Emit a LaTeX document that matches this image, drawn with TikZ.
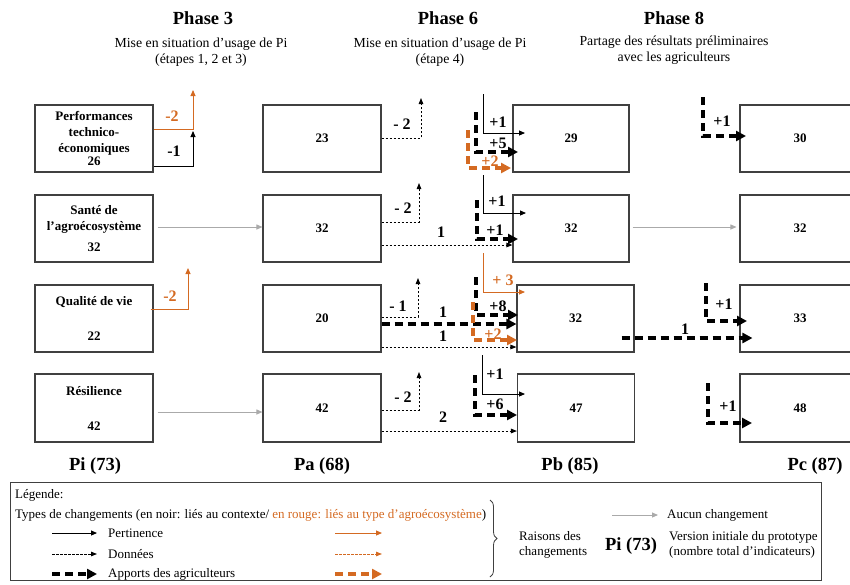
\documentclass[tikz,border=0pt]{standalone}
\usepackage{fontspec}
\setmainfont{Liberation Serif}
\usepackage{tikz}
\usetikzlibrary{arrows.meta,decorations.pathreplacing}

\definecolor{orng}{RGB}{212,106,34}
\definecolor{boxgray}{RGB}{64,64,64}
\definecolor{arrowgray}{RGB}{170,170,170}

\begin{document}
\begin{tikzpicture}[x=1pt,y=-1pt,
  box/.style={draw=boxgray,line width=1.1pt,minimum width=118pt,minimum height=67pt,inner sep=1pt,align=center,font=\bfseries\fontsize{13}{16}\selectfont},
  pert/.style={-{Triangle[length=6pt,width=5pt]},line width=0.9pt},
  donnees/.style={-{Triangle[length=6pt,width=4.5pt]},line width=0.9pt,dash pattern=on 2.5pt off 1.5pt},
  apports/.style={-{Triangle[length=10pt,width=10pt]},line width=3.2pt,dash pattern=on 8pt off 5pt},
  aucun/.style={-{Triangle[length=6pt,width=5pt]},line width=0.9pt,draw=arrowgray},
  lbl/.style={font=\bfseries\fontsize{16}{18}\selectfont},
  titre/.style={font=\bfseries\fontsize{18.5}{20}\selectfont},
  soustitre/.style={align=center,font=\fontsize{13.8}{16.5}\selectfont},
  proto/.style={font=\bfseries\fontsize{18.5}{20}\selectfont},
  leg/.style={anchor=west,inner sep=0pt,font=\fontsize{13}{15}\selectfont}]

\useasboundingbox (0,0) rectangle (850,584);

% phases
\node[titre] (ph3) at (203,18) {Phase 3};
\node[soustitre] (st3) at (201,52) {Mise en situation d’usage de Pi\\(étapes 1, 2 et 3)};
\node[titre] (ph6) at (448,18) {Phase 6};
\node[soustitre] (st6) at (440,52) {Mise en situation d’usage de Pi\\(étape 4)};
\node[titre] (ph8) at (674,18) {Phase 8};
\node[soustitre] (st8) at (674,50) {Partage des résultats préliminaires\\avec les agriculteurs};

% Pi
\node[box] (pi1) at (94,138.5) {Performances\\technico-\\économiques\\[-3pt]26};
\node[box] (pi2) at (94,228.5) {Santé de\\l’agroécosystème\\[5pt]32};
\node[box] (pi3) at (94,318.5) {Qualité de vie\\[19pt]22};
\node[box,minimum height=68pt] (pi4) at (94,408) {Résilience\\[19pt]42};

% Pa
\node[box] (pa1) at (322,138.5) {23};
\node[box] (pa2) at (322,228.5) {32};
\node[box] (pa3) at (322,318.5) {20};
\node[box,minimum height=68pt] (pa4) at (322,408) {42};

% Pb
\node[box,minimum width=116pt] (pb1) at (571,138.5) {29};
\node[box,minimum width=116pt] (pb2) at (571,228.5) {32};
\node[box,minimum width=117pt] (pb3) at (575.5,318.5) {32};
\node[box,minimum width=117pt,minimum height=68pt] (pb4) at (576,408) {47};

% Pc
\node[box,minimum width=120pt] (pc1) at (800,138.5) {30};
\node[box,minimum width=120pt] (pc2) at (800,228.5) {32};
\node[box,minimum width=120pt] (pc3) at (800,318.5) {33};
\node[box,minimum width=120pt,minimum height=68pt] (pc4) at (800,408) {48};

\node[proto] (vi) at (95,466) {Pi (73)};
\node[proto] (va) at (322,466) {Pa (68)};
\node[proto] (vb) at (570,466) {Pb (85)};
\node[proto] (vc) at (815,466) {Pc (87)};

% free ends
\coordinate (a1) at (193,131);
\coordinate (a2) at (193,90);
\coordinate (a3) at (421,98);
\coordinate (a4) at (419,183);
\coordinate (a5) at (188,268);
\coordinate (a6) at (418,278);
\coordinate (a7) at (419,372);
\coordinate (b1s) at (483,94);   \coordinate (b1e) at (525,133);
\coordinate (b2s) at (476,112);  \coordinate (b2e) at (518,152);
\coordinate (b3s) at (468,130);  \coordinate (b3e) at (511,168);
\coordinate (b4s) at (483,175);  \coordinate (b4e) at (526,213);
\coordinate (b5s) at (477,200);  \coordinate (b5e) at (518,239);
\coordinate (b6s) at (483,253);  \coordinate (b6e) at (525,292);
\coordinate (b7s) at (476,277);  \coordinate (b7e) at (518,315);
\coordinate (b8s) at (473,302);  \coordinate (b8e) at (517,340);
\coordinate (b9s) at (482,355);  \coordinate (b9e) at (525,394);
\coordinate (b10s) at (475,375); \coordinate (b10e) at (517,415);
\coordinate (c1s) at (703,97);   \coordinate (c1e) at (746,136);
\coordinate (c2s) at (706,283);  \coordinate (c2e) at (747,321);
\coordinate (c3s) at (708,383);  \coordinate (c3e) at (752,423);

% ligne 1
\draw[pert] ([yshift=-27.5pt]pi1.east) -| (a1);
\draw[pert,orng] ([yshift=9.5pt]pi1.east) -| (a2);
\node[lbl,orng] at (172,116) {-2};
\node[lbl] at (174,151) {-1};
\draw[donnees] ([yshift=0.5pt]pa1.east) -| (a3);
\node[lbl] at (402,124) {- 2};
\draw[pert] (b1s) |- (b1e);
\node[lbl] at (498,122) {+1};
\draw[apports] (b2s) |- (b2e);
\node[lbl] at (498,143) {+5};
\draw[apports,orng] (b3s) |- (b3e);
\node[lbl,orng] at (490,161) {+2};
\draw[apports] (c1s) |- (c1e);
\node[lbl] at (722,121) {+1};

% ligne 2
\draw[aucun] ([xshift=4pt,yshift=1.5pt]pi2.east) -- ([yshift=1.5pt]pa2.west);
\draw[donnees] ([yshift=6.5pt]pa2.east) -| (a4);
\node[lbl] at (403,208) {- 2};
\draw[donnees] ([yshift=-16.5pt]pa2.east) -- ([yshift=-16.5pt]pb2.west);
\node[lbl] at (441,232) {1};
\draw[pert] (b4s) |- (b4e);
\node[lbl] at (497,201) {+1};
\draw[apports] (b5s) |- (b5e);
\node[lbl] at (495,230) {+1};
\draw[aucun] ([xshift=3pt,yshift=1.5pt]pb2.east) -- ([xshift=-3pt,yshift=1.5pt]pc2.west);

% ligne 3
\draw[pert,orng] ([xshift=-3pt,yshift=9.5pt]pi3.east) -| (a5);
\node[lbl,orng] at (170,296) {-2};
\draw[donnees] ([yshift=1.5pt]pa3.east) -| (a6);
\node[lbl] at (398,306) {- 1};
\draw[apports] ([yshift=-5.5pt]pa3.east) -- ([yshift=-5.5pt]pb3.west);
\node[lbl] at (443,312) {1};
\draw[donnees] ([yshift=-28.5pt]pa3.east) -- ([yshift=-28.5pt]pb3.west);
\node[lbl] at (443,336) {1};
\draw[pert,orng] (b6s) |- (b6e);
\node[lbl,orng] at (503,280) {+ 3};
\draw[apports] (b7s) |- (b7e);
\node[lbl] at (498,306) {+8};
\draw[apports,orng] (b8s) |- (b8e);
\node[lbl,orng] at (493,334) {+2};
\draw[apports] ([xshift=-13pt,yshift=-19.5pt]pb3.east) -- ([xshift=13pt,yshift=-19.5pt]pc3.west);
\node[lbl] at (685,329) {1};
\draw[apports] (c2s) |- (c2e);
\node[lbl] at (724,304) {+1};

% ligne 4
\draw[aucun] ([xshift=4pt,yshift=-4pt]pi4.east) -- ([yshift=-4pt]pa4.west);
\draw[donnees] ([yshift=-2pt]pa4.east) -| (a7);
\node[lbl] at (403,397) {- 2};
\draw[donnees] ([yshift=-23pt]pa4.east) -- ([yshift=-23pt]pb4.west);
\node[lbl] at (443,417) {2};
\draw[pert] (b9s) |- (b9e);
\node[lbl] at (495,374) {+1};
\draw[apports] (b10s) |- (b10e);
\node[lbl] at (495,404) {+6};
\draw[apports] (c3s) |- (c3e);
\node[lbl] at (728,406) {+1};

% legende
\draw[boxgray,line width=1pt] (10,482) rectangle (821,580);
\node[leg] (lg) at (15,495) {Légende:};
\node[leg] (ty) at (15,515) {Types de changements (en noir: liés au contexte/ \textcolor{orng}{en rouge: liés au type d’agroécosystème})};
\coordinate (l1a) at (52,533);  \coordinate (l1b) at (97,533);
\coordinate (l2a) at (52,554);  \coordinate (l2b) at (97,554);
\coordinate (l3a) at (52,574);  \coordinate (l3b) at (97,574);
\coordinate (r1a) at (335,533); \coordinate (r1b) at (382,533);
\coordinate (r2a) at (335,554); \coordinate (r2b) at (382,554);
\coordinate (r3a) at (335,574); \coordinate (r3b) at (382,574);
\draw[pert] (l1a) -- (l1b);
\draw[donnees] (l2a) -- (l2b);
\draw[apports] (l3a) -- (l3b);
\draw[pert,orng] (r1a) -- (r1b);
\draw[donnees,orng] (r2a) -- (r2b);
\draw[apports,orng] (r3a) -- (r3b);
\node[leg] (lt1) at (108,533) {Pertinence};
\node[leg] (lt2) at (108,554) {Données};
\node[leg] (lt3) at (108,574) {Apports des agriculteurs};
\draw[boxgray,line width=0.8pt,decorate,decoration={brace,amplitude=7pt}] (490,500) -- (490,577);
\node[leg,align=left] (rs) at (519,545) {Raisons des\\changements};
\coordinate (g1) at (612,515); \coordinate (g2) at (658,515);
\draw[aucun] (g1) -- (g2);
\node[leg] (ac) at (667,515) {Aucun changement};
\node[proto] (pil) at (631,546) {Pi (73)};
\node[leg,align=left] (vs) at (669,545) {Version initiale du prototype\\(nombre total d’indicateurs)};

\end{tikzpicture}
\end{document}
